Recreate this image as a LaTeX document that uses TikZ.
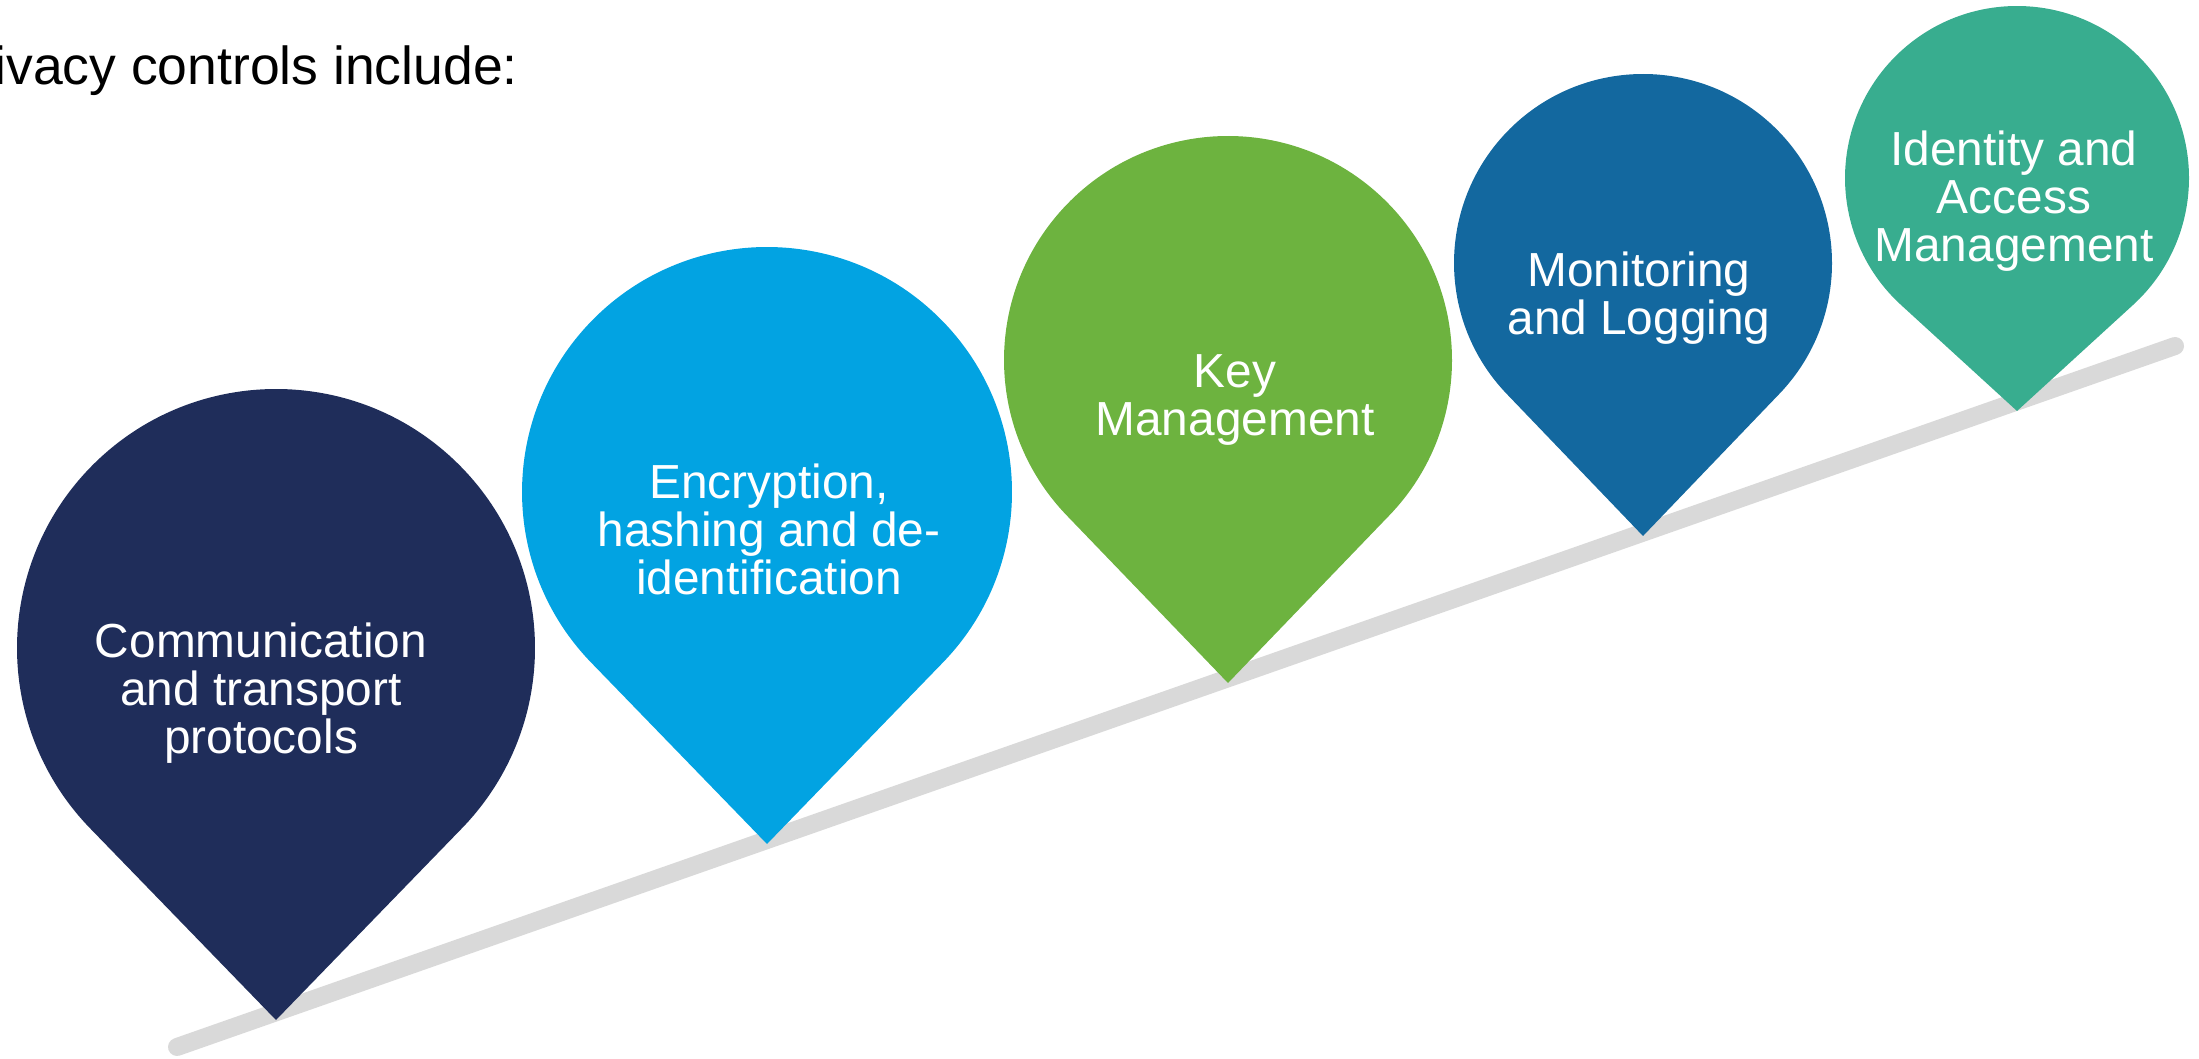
\documentclass[tikz,border=0pt]{standalone}
\usepackage{fontspec}
\setmainfont{Liberation Sans}
\definecolor{pinnavy}{HTML}{1F2D5A}
\definecolor{pinsky}{HTML}{02A3E2}
\definecolor{pingreen}{HTML}{6DB33F}
\definecolor{pinblue}{HTML}{13689F}
\definecolor{pinteal}{HTML}{38AD8F}
\definecolor{trackgray}{HTML}{D9D9D9}
\begin{document}
\begin{tikzpicture}[x=1pt,y=1pt,
  pintext/.style={text=white, align=center, font=\fontsize{47.8}{48}\selectfont, inner sep=0pt},
  track/.style={line width=18pt, line cap=round, draw=trackgray}]
\useasboundingbox (0,0) rectangle (2199,1058);
% track line
\coordinate (trackA) at (177,11);
\coordinate (trackB) at (2175,712);
\draw[track] (trackA) -- (trackB);
% pins: name/cx/cy/r/d/colour
\foreach \n/\cx/\cy/\r/\d/\col in {
  one/276/410/259/372/pinnavy,
  two/767/566/245/352/pinsky,
  three/1228/698/224/323/pingreen,
  four/1643/795/189/273/pinblue,
  five/2017/880/172/233/pinteal}{
  \pgfmathsetmacro\pa{acos(\r/\d)}
  \pgfmathsetmacro\sa{-90+\pa}
  \pgfmathsetmacro\ea{270-\pa}
  \fill[\col] (\cx,\cy-\d) coordinate (tip\n)
    -- ([shift={(\sa:\r)}]\cx,\cy) arc[start angle=\sa, end angle=\ea, radius=\r] -- cycle;
}
% title
\node[anchor=base east, inner sep=0pt, font=\fontsize{53.5}{60}\selectfont] (title) at (518,973) {ivacy controls include:};
% labels
\node[pintext] (lblone) at (261,365) {Communication\\and transport\\protocols};
\node[pintext] (lbltwo) at (769,529) {Encryption,\\hashing and de-\\identification};
\node[pintext] (lblthree) at (1235,658) {Key\\Management};
\node[pintext] (lblfour) at (1639,760) {Monitoring\\and Logging};
\node[pintext] (lblfive) at (2014,857) {Identity and\\Access\\Management};
\end{tikzpicture}
\end{document}
